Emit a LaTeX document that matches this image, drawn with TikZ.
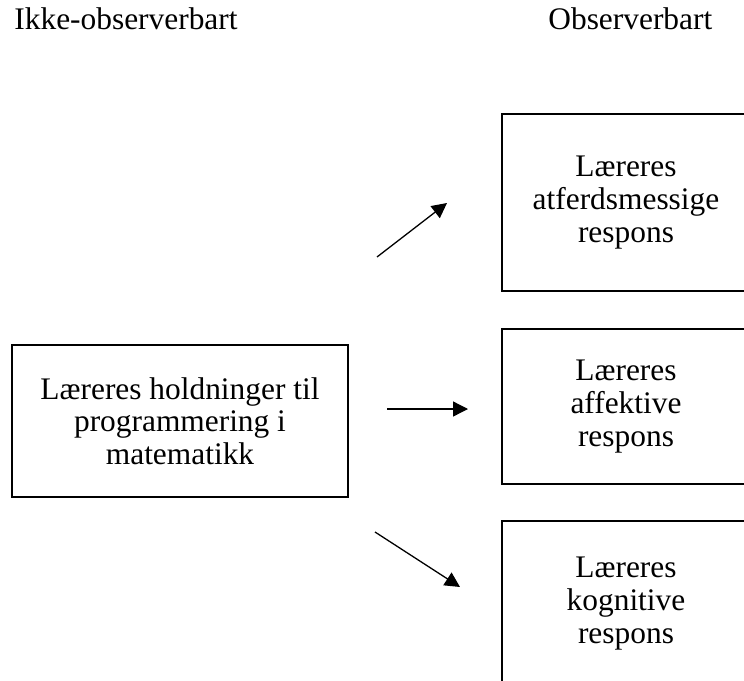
\documentclass[tikz,border=0pt]{standalone}
\usepackage{fontspec}
\setmainfont{Liberation Serif}
\usetikzlibrary{arrows.meta}
\tikzstyle{boks} = [rectangle, draw=black, line width=1pt, minimum width=124pt, align=center, font=\fontsize{15.7}{16.3}\selectfont]
\tikzstyle{overskrift} = [inner sep=0pt, font=\fontsize{15.7}{16.3}\selectfont]
\tikzstyle{pil} = [-{Triangle[length=7.5pt,width=7.5pt]}, line width=0.65pt]

\begin{document}
\begin{tikzpicture}[x=0.5pt, y=-0.5pt]
                \useasboundingbox (0,0) rectangle (744,680);

                \node [overskrift, anchor=base west] (ikkeobs) at (14,29) {Ikke-observerbart};
                \node [overskrift, anchor=base west] (obs) at (548,29) {Observerbart};

                \node [boks, anchor=north west, minimum width=168pt, minimum height=76pt] (holdning) at (11,344) {L\ae reres holdninger til\\ programmering i\\ matematikk};

                \node [boks, anchor=north west, minimum height=88.5pt] (atferd) at (501,113) {L\ae reres\\ atferdsmessige\\ respons};
                \node [boks, anchor=north west, minimum height=77.5pt] (affekt) at (501,328) {L\ae reres\\ affektive\\ respons};
                \node [boks, anchor=north west, minimum height=82.5pt] (kognitiv) at (501,520) {L\ae reres\\ kognitive\\ respons};

                \coordinate (atferd-fra) at (377,257);
                \coordinate (atferd-til) at (447,203);
                \coordinate (affekt-fra) at (387,409);
                \coordinate (affekt-til) at (468,409);
                \coordinate (kognitiv-fra) at (375,532);
                \coordinate (kognitiv-til) at (460,587);

                \draw[pil] (atferd-fra) -- (atferd-til);
                \draw[pil] (affekt-fra) -- (affekt-til);
                \draw[pil] (kognitiv-fra) -- (kognitiv-til);
            \end{tikzpicture}
\end{document}
